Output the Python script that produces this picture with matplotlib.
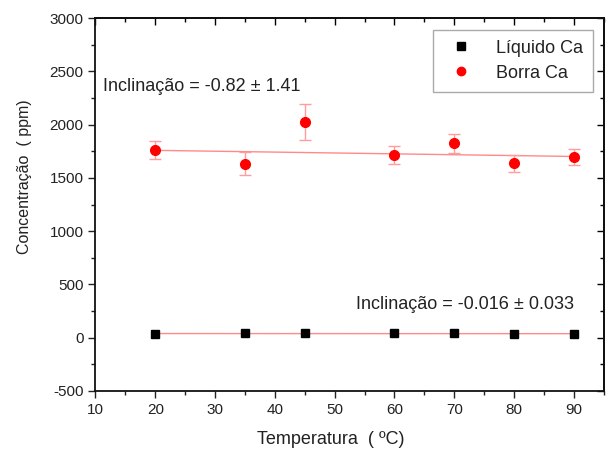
import matplotlib
matplotlib.use("Agg")
import matplotlib.pyplot as plt
import numpy as np
from matplotlib.ticker import MultipleLocator

plt.rcParams['font.family'] = ['Liberation Sans', 'DejaVu Sans']
plt.rcParams['axes.unicode_minus'] = False

temperatura = [20, 35, 45, 60, 70, 80, 90]
liquido_ca = [38, 40, 40, 47, 40, 38, 38]
borra_ca = [1761, 1633, 2027, 1714, 1824, 1636, 1698]
borra_err = [88, 107, 170, 86, 86, 79, 75]

fit_borra = (-0.82, 1775)    # slope, intercept
fit_liquido = (-0.016, 39)
txt_borra = "Inclinação = -0.82 ± 1.41"
txt_liquido = "Inclinação = -0.016 ± 0.033"

fig = plt.figure(figsize=(6.08, 4.53), dpi=100)
ax = fig.add_axes([0.157, 0.137, 0.836, 0.823])

xs = np.array([temperatura[0], temperatura[-1]])
fit_color = '#ff8a8a'
ax.plot(xs, fit_borra[0] * xs + fit_borra[1], color=fit_color, lw=1.0, zorder=1)
ax.plot(xs, fit_liquido[0] * xs + fit_liquido[1], color=fit_color, lw=1.0, zorder=1)

ax.errorbar(temperatura, borra_ca, yerr=borra_err, fmt='none', ecolor='#ff9c9c',
            elinewidth=1.0, capsize=4, capthick=1.0, zorder=2)
ax.plot(temperatura, liquido_ca, 's', color='black', ms=5.5, ls='none',
        label='Líquido Ca', zorder=3)
ax.plot(temperatura, borra_ca, 'o', color='red', ms=7, ls='none',
        label='Borra Ca', zorder=3)

ax.text(11.3, 2362, txt_borra, fontsize=13, va='center', ha='left', color='#222222')
ax.text(53.5, 313, txt_liquido, fontsize=13, va='center', ha='left', color='#222222')

ax.set_xlim(10, 95)
ax.set_ylim(-500, 3000)
ax.xaxis.set_major_locator(MultipleLocator(10))
ax.xaxis.set_minor_locator(MultipleLocator(5))
ax.yaxis.set_major_locator(MultipleLocator(500))
ax.yaxis.set_minor_locator(MultipleLocator(250))
ax.set_xticks([10, 20, 30, 40, 50, 60, 70, 80, 90])

ax.tick_params(which='both', direction='out', top=False, right=False, labelsize=11,
               colors='#222222', width=1.0)
ax.tick_params(which='major', length=5)
ax.tick_params(which='minor', length=3)

# mirrored inward ticks on top and right
sec_x = ax.secondary_xaxis('top')
sec_x.xaxis.set_major_locator(MultipleLocator(10))
sec_x.xaxis.set_minor_locator(MultipleLocator(5))
sec_x.tick_params(which='both', direction='in', labeltop=False, width=1.0)
sec_x.tick_params(which='major', length=5)
sec_x.tick_params(which='minor', length=3)
sec_y = ax.secondary_yaxis('right')
sec_y.yaxis.set_major_locator(MultipleLocator(500))
sec_y.yaxis.set_minor_locator(MultipleLocator(250))
sec_y.tick_params(which='both', direction='in', labelright=False, width=1.0)
sec_y.tick_params(which='major', length=5)
sec_y.tick_params(which='minor', length=3)

for sp in ax.spines.values():
    sp.set_linewidth(1.3)
    sp.set_color('#111111')
sec_x.spines['top'].set_linewidth(1.3)
sec_y.spines['right'].set_linewidth(1.3)

ax.set_xlabel('Temperatura  ( ºC)', fontsize=13, color='#222222')
ax.set_ylabel('Concentração  ( ppm)', fontsize=11.5, color='#222222')
ax.xaxis.set_label_coords(0.463, -0.108)
ax.yaxis.set_label_coords(-0.124, 0.574)

leg = ax.legend(loc='upper right', bbox_to_anchor=(0.978, 0.969), fontsize=13,
                fancybox=False, framealpha=1, edgecolor='#aaaaaa',
                handletextpad=0.95, borderpad=0.55, labelspacing=0.45,
                handlelength=1.95, borderaxespad=0)
leg.get_frame().set_linewidth(1.0)
for t in leg.get_texts():
    t.set_color('#222222')
leg.legend_handles[0].set_markersize(5.5)
leg.legend_handles[1].set_markersize(6)

fig.savefig('out.png', dpi=100)
